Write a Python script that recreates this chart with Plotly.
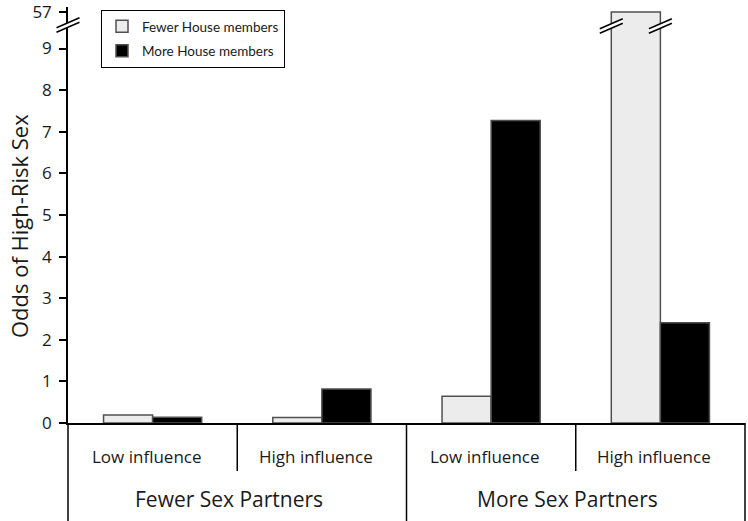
import plotly.graph_objects as go

# ---- data ----
influence_labels = ["Low influence", "High influence", "Low influence", "High influence"]
partner_labels = ["Fewer Sex Partners", "More Sex Partners"]
series_names = ["Fewer House members", "More House members"]
fewer_house = [0.19, 0.13, 0.64, 57]
more_house = [0.14, 0.82, 7.27, 2.41]
low_ticks = [0, 1, 2, 3, 4, 5, 6, 7, 8, 9]
high_ticks = [57]

# ---- geometry helpers (pixels -> paper) ----
W, H = 748, 521
ML, MR, MT, MB = 68, 3, 0, 98
PW = W - ML - MR
PH = H - MT - MB
AXIS_Y = MT + PH  # pixel y of x-axis


def px(xp):
    return (xp - ML) / PW


def py(yp):
    return (MT + PH - yp) / PH


BREAK_Y = 25
TOP_Y = 7
unit_px = (AXIS_Y - 48.5) / 9.0
low_range = [0, (AXIS_Y - BREAK_Y) / unit_px]
frac57 = (BREAK_Y - 12) / (BREAK_Y - TOP_Y)
high_range = [57 - frac57, 57 - frac57 + 1]

xs = list(range(len(influence_labels)))
FONT = "Open Sans"
TXT = "#1a1a1a"

light = dict(color="#ececec", line=dict(color="#505050", width=1.5))
dark = dict(color="#000000", line=dict(color="#505050", width=1.5))

fig = go.Figure()
for yax, show in (("y", True), ("y2", False)):
    fig.add_trace(go.Bar(x=xs, y=fewer_house, name=series_names[0], marker=light, legendgroup="a",
                         xaxis="x", yaxis=yax, showlegend=show))
    fig.add_trace(go.Bar(x=xs, y=more_house, name=series_names[1], marker=dark, legendgroup="b",
                         xaxis="x", yaxis=yax, showlegend=show))

shapes = []
line_k = dict(color="black", width=1.5)
# extended vertical separators below the axis
for xpap, ybot in ((0.0, H), (0.5, H), (1.0, H), (0.25, 471), (0.75, 471)):
    shapes.append(dict(type="line", xref="paper", yref="paper", x0=xpap, x1=xpap,
                       y0=py(AXIS_Y), y1=py(ybot), line=line_k, layer="above"))


def break_mark(cx, cy):
    dx, dy = 11.5, 5.0
    shapes.append(dict(type="line", xref="paper", yref="paper",
                       x0=px(cx - dx), y0=py(cy + dy), x1=px(cx + dx), y1=py(cy - dy),
                       line=dict(color="white", width=4), layer="above"))
    for off in (-2.2, 2.2):
        shapes.append(dict(type="line", xref="paper", yref="paper",
                           x0=px(cx - dx), y0=py(cy + dy + off), x1=px(cx + dx), y1=py(cy - dy + off),
                           line=dict(color="black", width=1.5), layer="above"))


break_mark(ML, BREAK_Y)
bargap = 0.42
bw = (1 - bargap) / 2
left_edge = ML + (3 - bw + 0.5) / 4 * PW
right_edge = ML + (3 + 0.5) / 4 * PW
break_mark(left_edge, BREAK_Y + 1)
break_mark(right_edge, BREAK_Y + 1)

annotations = []
for i, lab in enumerate(influence_labels):
    annotations.append(dict(x=i, y=py(456), xref="x", yref="paper", text=lab, showarrow=False, xshift=-6,
                            font=dict(family=FONT, size=17, color=TXT), xanchor="center", yanchor="middle"))
for j, lab in enumerate(partner_labels):
    annotations.append(dict(x=0.5 + 2 * j, y=py(499), xref="x", yref="paper", text=lab, showarrow=False,
                            xshift=-8, font=dict(family=FONT, size=21, color=TXT),
                            xanchor="center", yanchor="middle"))
annotations.append(dict(x=px(19), y=py(226), xref="paper", yref="paper", text="Odds of High-Risk Sex",
                        showarrow=False, textangle=-90, font=dict(family=FONT, size=22, color=TXT),
                        xanchor="center", yanchor="middle"))

axis_common = dict(showgrid=False, zeroline=False, showline=True, linecolor="black", linewidth=1.5,
                   ticks="outside", ticklen=7, tickwidth=1.5, tickcolor="black",
                   ticklabelstandoff=4, ticklabeloverflow="allow", automargin=False,
                   tickfont=dict(family=FONT, size=17, color=TXT))

fig.update_layout(
    width=W, height=H,
    margin=dict(l=ML, r=MR, t=MT, b=MB, autoexpand=False),
    paper_bgcolor="white", plot_bgcolor="white",
    barmode="group", bargap=bargap, bargroupgap=0,
    xaxis=dict(range=[-0.5, 3.5], showticklabels=False, ticks="", showgrid=False, zeroline=False,
               automargin=False, showline=True, linecolor="black", linewidth=1.5, anchor="y", domain=[0, 1]),
    yaxis=dict(domain=[0, py(BREAK_Y)], range=low_range, tickvals=low_ticks, anchor="x", **axis_common),
    yaxis2=dict(domain=[py(BREAK_Y), py(TOP_Y)], range=high_range, tickvals=high_ticks, anchor="x",
                **axis_common),
    legend=dict(x=px(101), y=py(10), xanchor="left", yanchor="top", bordercolor="black", borderwidth=1,
                bgcolor="white", font=dict(family="Lato", size=13.5, color=TXT), traceorder="grouped",
                tracegroupgap=4, itemwidth=30),
    shapes=shapes, annotations=annotations,
    showlegend=True,
)

fig.write_html("out.html", config={"displayModeBar": False},
               post_script="document.body.style.margin='0px';")
